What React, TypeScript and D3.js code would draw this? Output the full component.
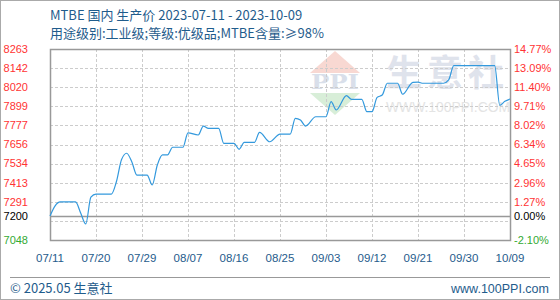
import React from "react";
import * as d3 from "d3";

const W = 560;
const H = 300;

const titleText = "MTBE 国内 生产价 2023-07-11 - 2023-10-09";
const subtitleText = "用途级别:工业级;等级:优级品;MTBE含量:≥98%";

const dates = [
  "2023-07-11", "2023-07-12", "2023-07-13", "2023-07-16", "2023-07-17", "2023-07-18", "2023-07-19", "2023-07-20",
  "2023-07-23", "2023-07-24", "2023-07-25", "2023-07-26", "2023-07-27", "2023-07-28", "2023-07-30", "2023-07-31",
  "2023-08-01", "2023-08-02", "2023-08-03", "2023-08-04", "2023-08-06", "2023-08-07", "2023-08-09", "2023-08-10",
  "2023-08-11", "2023-08-13", "2023-08-14", "2023-08-16", "2023-08-17", "2023-08-18", "2023-08-20", "2023-08-21",
  "2023-08-23", "2023-08-25", "2023-08-27", "2023-08-28", "2023-08-29", "2023-08-30", "2023-09-01", "2023-09-03",
  "2023-09-04", "2023-09-05", "2023-09-07", "2023-09-08", "2023-09-10", "2023-09-11", "2023-09-12", "2023-09-13",
  "2023-09-14", "2023-09-15", "2023-09-17", "2023-09-18", "2023-09-20", "2023-09-21", "2023-09-22", "2023-09-26",
  "2023-09-27", "2023-09-28", "2023-10-06", "2023-10-07", "2023-10-08", "2023-10-09",
];
const prices = [
  7200, 7265, 7290, 7290, 7220, 7150, 7320, 7340,
  7340, 7420, 7560, 7600, 7546, 7461, 7461, 7398,
  7525, 7589, 7589, 7638, 7638, 7730, 7716, 7773,
  7758, 7758, 7663, 7663, 7625, 7669, 7669, 7733,
  7673, 7722, 7722, 7822, 7811, 7773, 7832, 7832,
  7928, 7875, 7966, 7943, 7943, 7864, 7864, 7955,
  7970, 8045, 8045, 7975, 8051, 8052, 8045, 8045,
  8066, 8157, 8157, 7905, 7930, 7945,
];

const xTickDates = [
  "2023-07-11", "2023-07-20", "2023-07-29", "2023-08-07", "2023-08-16", "2023-08-25",
  "2023-09-03", "2023-09-12", "2023-09-21", "2023-09-30", "2023-10-09",
];
const xTickLabels = ["07/11", "07/20", "07/29", "08/07", "08/16", "08/25", "09/03", "09/12", "09/21", "09/30", "10/09"];

const yGridValues = [8263, 8141.5, 8020, 7898.5, 7777, 7655.5, 7534, 7412.5, 7291, 7169.5];
const leftLabels = ["8263", "8142", "8020", "7899", "7777", "7656", "7534", "7413", "7291"];
const rightLabels = ["14.77%", "13.09%", "11.40%", "9.71%", "8.02%", "6.34%", "4.65%", "2.96%", "1.27%"];
const baseValue = 7200;
const baseLabel = "7200";
const baseRightLabel = "0.00%";
const minValue = 7048;
const minLabel = "7048";
const minRightLabel = "-2.10%";
const maxValue = 8263;

const parse = d3.timeParse("%Y-%m-%d");

export default function App() {
  const left = 50, right = 510, top = 49, bottom = 240;
  const x = d3.scaleTime()
    .domain([parse(dates[0])!, parse(dates[dates.length - 1])!])
    .range([left, right]);
  const y = d3.scaleLinear().domain([minValue, maxValue]).range([bottom, top]);

  const data = dates.map((d, i) => ({ date: parse(d)!, value: prices[i] }));
  const line = d3.line<{ date: Date; value: number }>()
    .x((d) => x(d.date))
    .y((d) => y(d.value))
    .curve(d3.curveMonotoneX);

  const axisFont = "'Liberation Sans', Arial, sans-serif";
  const cjkFont = "'Noto Sans CJK SC', 'Liberation Sans', sans-serif";
  const red = "#ff3333";
  const green = "#33aa33";
  const blue = "#1f5c8c";

  return (
    <svg width={W} height={H} style={{ position: "absolute", left: 0, top: 0, background: "#fff" }}>
      <rect x={0} y={0} width={W} height={H} fill="#fff" />
      {/* watermark */}
      <g>
        <polygon points="310,73 360,73 335,51" fill="#f8d8d2" />
        <text x={335} y={89} textAnchor="middle" fontFamily="'DejaVu Serif', serif" fontWeight="bold" fontSize={20} fill="#d9dfea" textLength={48} lengthAdjust="spacingAndGlyphs">PPI</text>
        <polygon points="310,93 360,93 335,115" fill="#d8eed8" />
        <text x={386} y={86} fontFamily={cjkFont} fontSize={36} fontWeight="bold" fill="#dfe3ec" textLength={118} lengthAdjust="spacing">生意社</text>
        <text x={386} y={112} fontFamily={axisFont} fontSize={14} fill="#e4e4e4" textLength={124} lengthAdjust="spacingAndGlyphs">WWW.100PPI.COM</text>
      </g>
      {/* title */}
      <text x={50} y={20} fontFamily={cjkFont} fontSize={13} fill={blue}>{titleText}</text>
      <text x={50} y={38} fontFamily={cjkFont} fontSize={13} fill={blue}>{subtitleText}</text>

      {/* horizontal grid */}
      {yGridValues.map((v, i) => (
        <line key={"hg" + i} x1={left} x2={right} y1={Math.round(y(v)) + 0.5} y2={Math.round(y(v)) + 0.5}
          stroke="#cccccc" strokeDasharray="3,2" />
      ))}
      {/* vertical grid */}
      {xTickDates.slice(1, -1).map((d, i) => (
        <line key={"vg" + i} x1={Math.round(x(parse(d)!)) + 0.5} x2={Math.round(x(parse(d)!)) + 0.5} y1={top} y2={bottom}
          stroke="#cccccc" strokeDasharray="3,2" />
      ))}
      {/* baseline */}
      <line x1={left} x2={right} y1={Math.round(y(baseValue)) + 0.5} y2={Math.round(y(baseValue)) + 0.5} stroke="#999" strokeWidth={1.5} />
      {/* frame */}
      <rect x={left + 0.5} y={top + 0.5} width={right - left} height={bottom - top} fill="none" stroke="#999" strokeWidth={1.5} />

      {/* price line */}
      <path d={line(data) || ""} fill="none" stroke="#3399dd" strokeWidth={1.2} />

      {/* left labels */}
      {leftLabels.map((t, i) => (
        <text key={"ll" + i} x={28} y={y(yGridValues[i])} dy="0.35em" textAnchor="end" fontFamily={axisFont} fontSize={11} fill={red}>{t}</text>
      ))}
      <text x={28} y={y(baseValue)} dy="0.35em" textAnchor="end" fontFamily={axisFont} fontSize={11} fill="#000">{baseLabel}</text>
      <text x={28} y={y(minValue)} dy="0.35em" textAnchor="end" fontFamily={axisFont} fontSize={11} fill={green}>{minLabel}</text>

      {/* right labels */}
      {rightLabels.map((t, i) => (
        <text key={"rl" + i} x={514} y={y(yGridValues[i])} dy="0.35em" fontFamily={axisFont} fontSize={11} fill={red}>{t}</text>
      ))}
      <text x={514} y={y(baseValue)} dy="0.35em" fontFamily={axisFont} fontSize={11} fill="#000">{baseRightLabel}</text>
      <text x={514} y={y(minValue)} dy="0.35em" fontFamily={axisFont} fontSize={11} fill={green}>{minRightLabel}</text>

      {/* x labels */}
      {xTickDates.map((d, i) => (
        <text key={"xl" + i} x={x(parse(d)!)} y={258} dy="0.35em" textAnchor="middle" fontFamily={axisFont} fontSize={11.5} fill={blue}>{xTickLabels[i]}</text>
      ))}

      {/* footer */}
      <line x1={10} x2={550} y1={277.5} y2={277.5} stroke="#999" />
      <text x={10} y={293} fontFamily={cjkFont} fontSize={13} fill={blue}>© 2025.05 生意社</text>
      <text x={549} y={293} textAnchor="end" fontFamily={axisFont} fontSize={12.5} fill={blue}>www.100PPI.com</text>
      {/* outer border */}
      <rect x={0.5} y={0.5} width={W - 1} height={H - 1} fill="none" stroke="#aaa" />
    </svg>
  );
}
